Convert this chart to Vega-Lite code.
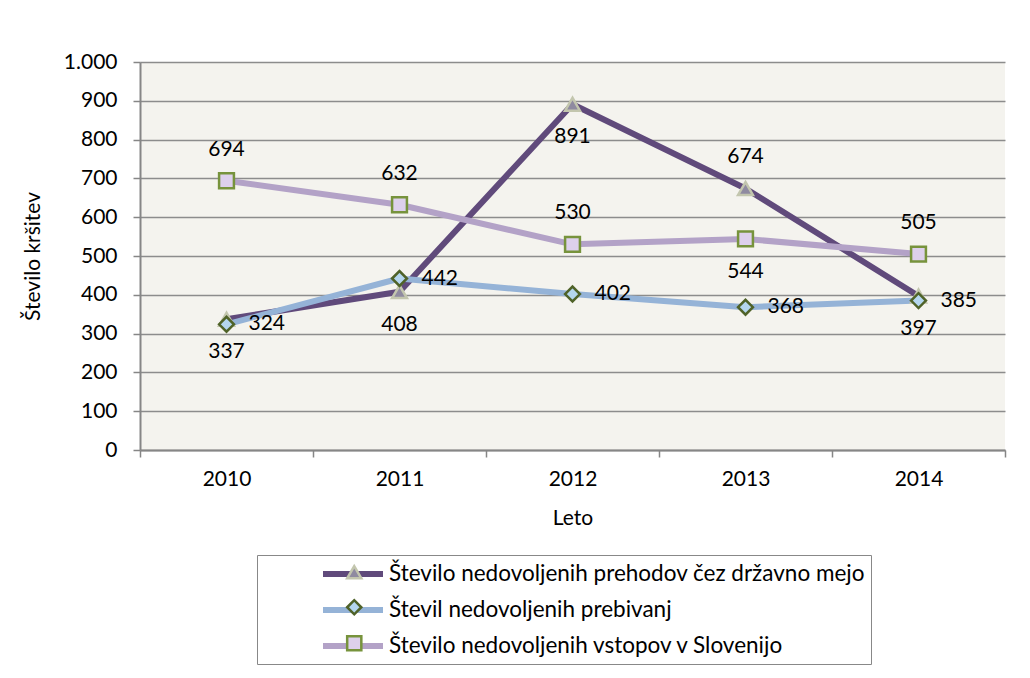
{
  "$schema": "https://vega.github.io/schema/vega-lite/v6.json",
  "autosize": "none",
  "width": 865,
  "height": 388,
  "padding": {"left": 140, "top": 62, "right": 25, "bottom": 228},
  "background": "#ffffff",
  "config": {
    "font": "Lato",
    "view": {"fill": "#f4f3ee", "stroke": null},
    "axis": {"labelFont": "Lato", "titleFont": "Lato", "labelFontSize": 21, "titleFontSize": 21, "labelColor": "#000", "titleColor": "#000", "titleFontWeight": "normal", "domainColor": "#868686", "domainWidth": 2, "tickColor": "#868686", "tickWidth": 1.5, "tickSize": 7, "gridColor": "#8c8c8c", "gridWidth": 1.5}
  },
  "data": {"values": [
    {"year": "2010", "series": "Število nedovoljenih prehodov čez državno mejo", "value": 337},
    {"year": "2011", "series": "Število nedovoljenih prehodov čez državno mejo", "value": 408},
    {"year": "2012", "series": "Število nedovoljenih prehodov čez državno mejo", "value": 891},
    {"year": "2013", "series": "Število nedovoljenih prehodov čez državno mejo", "value": 674},
    {"year": "2014", "series": "Število nedovoljenih prehodov čez državno mejo", "value": 397},
    {"year": "2010", "series": "Števil nedovoljenih prebivanj", "value": 324},
    {"year": "2011", "series": "Števil nedovoljenih prebivanj", "value": 442},
    {"year": "2012", "series": "Števil nedovoljenih prebivanj", "value": 402},
    {"year": "2013", "series": "Števil nedovoljenih prebivanj", "value": 368},
    {"year": "2014", "series": "Števil nedovoljenih prebivanj", "value": 385},
    {"year": "2010", "series": "Število nedovoljenih vstopov v Slovenijo", "value": 694},
    {"year": "2011", "series": "Število nedovoljenih vstopov v Slovenijo", "value": 632},
    {"year": "2012", "series": "Število nedovoljenih vstopov v Slovenijo", "value": 530},
    {"year": "2013", "series": "Število nedovoljenih vstopov v Slovenijo", "value": 544},
    {"year": "2014", "series": "Število nedovoljenih vstopov v Slovenijo", "value": 505}
  ]},
  "encoding": {
    "x": {"field": "year", "type": "ordinal", "scale": {"paddingInner": 0, "paddingOuter": 0}, "axis": {"title": "Leto", "labelAngle": 0, "tickBand": "extent", "labelPadding": 11, "titlePadding": 18}},
    "y": {"field": "value", "type": "quantitative", "scale": {"domain": [0, 1000], "nice": false}, "axis": {"title": "Število kršitev", "values": [0,100,200,300,400,500,600,700,800,900,1000], "labelExpr": "datum.value == 1000 ? '1.000' : datum.label", "labelPadding": 16, "titlePadding": 20}}
  },
  "layer": [
    {
      "mark": {"type": "line", "strokeWidth": 6, "strokeCap": "round", "strokeJoin": "round"},
      "encoding": {
        "color": {"field": "series", "type": "nominal", "sort": null,
          "scale": {"domain": ["Število nedovoljenih prehodov čez državno mejo", "Števil nedovoljenih prebivanj", "Število nedovoljenih vstopov v Slovenijo"], "range": ["#604a7b", "#95b3d7", "#b3a2c7"]},
          "legend": {"title": null, "orient": "none", "legendX": 117, "legendY": 493, "direction": "vertical", "symbolType": "M4.7,0H10.7", "symbolSize": 400, "symbolStrokeWidth": 6, "labelFontSize": 22.5, "labelFont": "Lato", "labelColor": "#000", "strokeColor": "#888", "padding": 6, "rowPadding": 11, "labelOffset": 100, "labelLimit": 700, "zindex": 1}
        },
        "order": {"field": "year"}
      }
    },
    {
      "transform": [{"calculate": "datum.series", "as": "marker"}],
      "mark": {"type": "point", "filled": true, "size": 220, "strokeWidth": 2.5, "opacity": 1},
      "encoding": {
        "shape": {"field": "marker", "type": "nominal", "sort": null,
          "scale": {"range": ["triangle-up", "diamond", "square"]},
          "legend": {"title": null, "orient": "none", "legendX": 117, "legendY": 493, "direction": "vertical", "symbolSize": 200, "symbolStrokeWidth": 2.5, "symbolOpacity": 1, "labelFontSize": 22.5, "labelFont": "Lato", "labelExpr": "''", "padding": 6, "rowPadding": 11, "symbolOffset": 80, "zindex": 2}},
        "fill": {"field": "marker", "type": "nominal", "sort": null,
          "scale": {"range": ["#8f8aa0", "#b4d6ee", "#ddd0ec"]},
          "legend": {"title": null, "orient": "none", "legendX": 117, "legendY": 493, "direction": "vertical", "symbolSize": 200, "symbolStrokeWidth": 2.5, "symbolOpacity": 1, "labelFontSize": 22.5, "labelFont": "Lato", "labelExpr": "''", "padding": 6, "rowPadding": 11, "symbolOffset": 80, "zindex": 2}},
        "stroke": {"field": "marker", "type": "nominal", "sort": null,
          "scale": {"range": ["#c3c6ae", "#4f6228", "#77933c"]},
          "legend": {"title": null, "orient": "none", "legendX": 117, "legendY": 493, "direction": "vertical", "symbolSize": 200, "symbolStrokeWidth": 2.5, "symbolOpacity": 1, "labelFontSize": 22.5, "labelFont": "Lato", "labelExpr": "''", "padding": 6, "rowPadding": 11, "symbolOffset": 80, "zindex": 2}}
      }
    },
    {
      "transform": [{"filter": "(datum.series == 'Število nedovoljenih prehodov čez državno mejo' && datum.year != '2013') || (datum.series == 'Število nedovoljenih vstopov v Slovenijo' && datum.year == '2013')"}],
      "mark": {"type": "text", "fontSize": 21, "font": "Lato", "color": "#000", "dy": 33},
      "encoding": {"text": {"field": "value", "type": "quantitative"}}
    },
    {
      "transform": [{"filter": "(datum.series == 'Število nedovoljenih prehodov čez državno mejo' && datum.year == '2013') || (datum.series == 'Število nedovoljenih vstopov v Slovenijo' && datum.year != '2013')"}],
      "mark": {"type": "text", "fontSize": 21, "font": "Lato", "color": "#000", "dy": -31},
      "encoding": {"text": {"field": "value", "type": "quantitative"}}
    },
    {
      "transform": [{"filter": "datum.series == 'Števil nedovoljenih prebivanj'"}],
      "mark": {"type": "text", "fontSize": 21, "font": "Lato", "color": "#000", "align": "left", "dx": 22},
      "encoding": {"text": {"field": "value", "type": "quantitative"}}
    }
  ]
}
